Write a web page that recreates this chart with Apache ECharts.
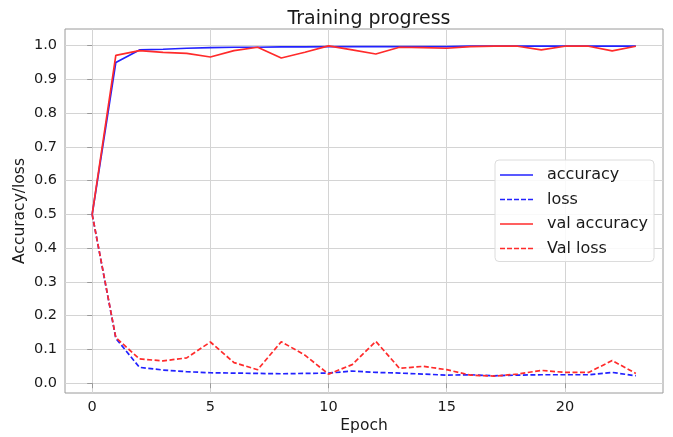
<!DOCTYPE html>
<html>
<head>
<meta charset="utf-8">
<script src="https://cdn.jsdelivr.net/npm/echarts@6/dist/echarts.min.js"></script>
<style>
html,body{margin:0;padding:0;background:#fff;}
#chart{width:673px;height:437px;}
</style>
</head>
<body>
<div id="chart"></div>
<script>
var epochs = [0,1,2,3,4,5,6,7,8,9,10,11,12,13,14,15,16,17,18,19,20,21,22,23];
var accuracy = [0.5, 0.950, 0.987, 0.989, 0.992, 0.994, 0.995, 0.995, 0.996, 0.996, 0.997, 0.997, 0.997, 0.997, 0.997, 0.997, 0.998, 0.998, 0.998, 0.998, 0.998, 0.998, 0.998, 0.998];
var loss = [0.5, 0.133, 0.047, 0.039, 0.034, 0.031, 0.030, 0.029, 0.028, 0.029, 0.030, 0.036, 0.032, 0.030, 0.027, 0.024, 0.025, 0.022, 0.024, 0.025, 0.025, 0.025, 0.032, 0.022];
var valAccuracy = [0.5, 0.971, 0.985, 0.980, 0.977, 0.966, 0.985, 0.995, 0.963, 0.980, 0.999, 0.987, 0.975, 0.995, 0.994, 0.992, 0.997, 0.998, 0.998, 0.987, 0.998, 0.998, 0.984, 0.998];
var valLoss = [0.5, 0.135, 0.072, 0.066, 0.075, 0.122, 0.061, 0.040, 0.123, 0.083, 0.027, 0.055, 0.124, 0.044, 0.050, 0.040, 0.024, 0.021, 0.027, 0.038, 0.032, 0.032, 0.067, 0.029];
var xTicks = [0, 5, 10, 15, 20];
var yTicks = [0, 0.1, 0.2, 0.3, 0.4, 0.5, 0.6, 0.7, 0.8, 0.9, 1.0];
var seriesNames = ['accuracy', 'loss', 'val accuracy', 'Val loss'];

function pairs(ys){ return epochs.map(function(e,i){ return [e, ys[i]]; }); }

var FONT = 'DejaVu Sans';
var BLUE = '#2222ff';
var RED = '#ff2b2b';
var SOLID_ICON = 'path://M0,0H33V1.7H0Z';
var DASH_ICON = 'path://M0,0H5V1.7H0Z M7,0H12V1.7H7Z M14,0H19V1.7H14Z M21,0H26V1.7H21Z M28,0H33V1.7H28Z';
var chart = echarts.init(document.getElementById('chart'), null, {renderer:'canvas'});
var option = {
  animation: false,
  backgroundColor: '#fff',
  textStyle: {fontFamily: FONT},
  title: {
    text: 'Training progress',
    left: 364, textAlign: 'center', top: 5,
    textStyle: {fontFamily: FONT, fontSize: 19, fontWeight: 'normal', color: '#1a1a1a'}
  },
  grid: {
    left: 65, right: 10, top: 29, bottom: 44,
    outerBoundsMode: 'none', containLabel: false,
    show: true, borderColor: '#9a9a9a', borderWidth: 1, backgroundColor: 'transparent'
  },
  legend: {
    orient: 'vertical', right: 19, top: 160,
    padding: [7, 6, 5, 5],
    itemGap: 8.5, itemWidth: 33, itemHeight: 14,
    backgroundColor: 'rgba(255,255,255,0.85)', borderColor: '#dcdcdc', borderWidth: 1, borderRadius: 4,
    textStyle: {fontFamily: FONT, fontSize: 16, color: '#1a1a1a', padding: [0,0,0,9]},
    data: [
      {name: seriesNames[0], icon: SOLID_ICON},
      {name: seriesNames[1], icon: DASH_ICON},
      {name: seriesNames[2], icon: SOLID_ICON},
      {name: seriesNames[3], icon: DASH_ICON}
    ]
  },
  xAxis: {
    type: 'value', min: -1.15, max: 24.15,
    name: 'Epoch', nameLocation: 'middle', nameGap: 25, nameMoveOverlap: false,
    nameTextStyle: {fontFamily: FONT, fontSize: 15.5, color: '#1a1a1a'},
    axisLine: {show: false},
    axisTick: {show: true, customValues: xTicks, length: 5, lineStyle: {color: '#9a9a9a'}},
    axisLabel: {customValues: xTicks, fontFamily: FONT, fontSize: 14.5, color: '#1a1a1a', margin: 7},
    splitLine: {show: true, lineStyle: {color: '#d4d4d4', width: 1}}
  },
  yAxis: {
    type: 'value', min: -0.029, max: 1.049,
    name: 'Accuracy/loss', nameLocation: 'middle', nameGap: 37, nameRotate: 90, nameMoveOverlap: false,
    nameTextStyle: {fontFamily: FONT, fontSize: 15.5, color: '#1a1a1a'},
    axisLine: {show: false},
    axisTick: {show: true, customValues: yTicks, length: 5, lineStyle: {color: '#9a9a9a'}},
    axisLabel: {customValues: yTicks, fontFamily: FONT, fontSize: 14.5, color: '#1a1a1a', margin: 8,
      formatter: function(v){ return v.toFixed(1); }},
    splitLine: {show: true, lineStyle: {color: '#d4d4d4', width: 1}}
  },
  series: [
    {name: seriesNames[0], type: 'line', data: pairs(accuracy), symbol: 'none', color: BLUE,
     lineStyle: {color: BLUE, width: 1.7}},
    {name: seriesNames[1], type: 'line', data: pairs(loss), symbol: 'none', color: BLUE,
     lineStyle: {color: BLUE, width: 1.7, type: [5, 2.5]}},
    {name: seriesNames[2], type: 'line', data: pairs(valAccuracy), symbol: 'none', color: RED,
     lineStyle: {color: RED, width: 1.7}},
    {name: seriesNames[3], type: 'line', data: pairs(valLoss), symbol: 'none', color: RED,
     lineStyle: {color: RED, width: 1.7, type: [5, 2.5]}}
  ]
};
chart.setOption(option);
</script>
</body>
</html>
